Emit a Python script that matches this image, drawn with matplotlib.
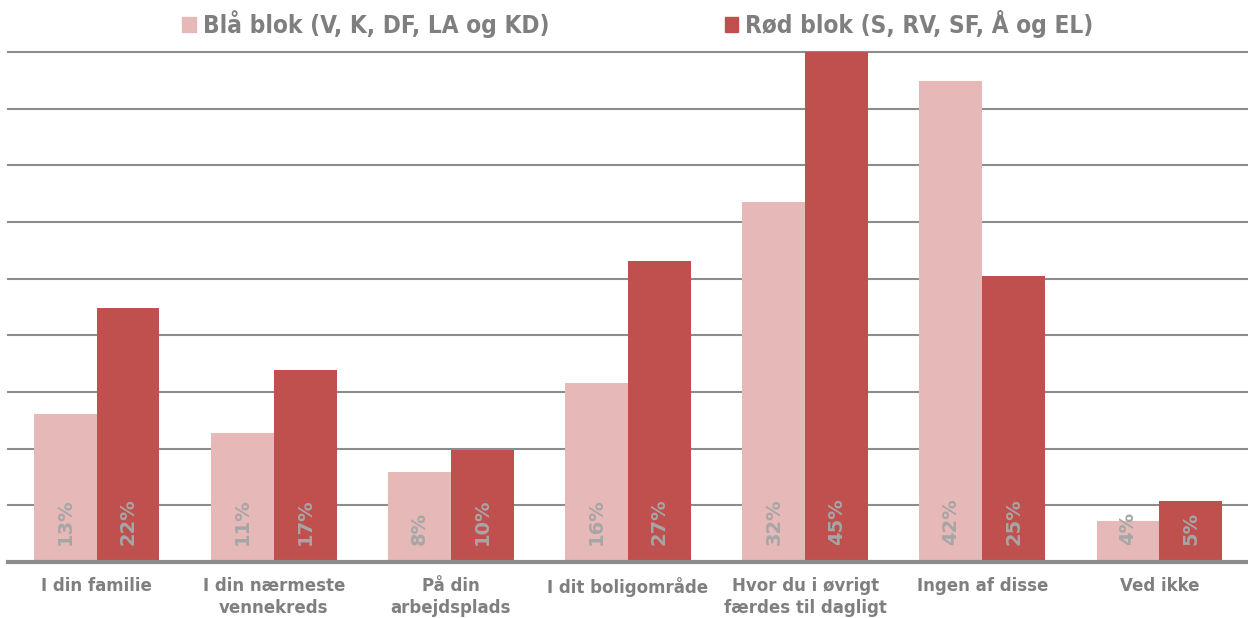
import numpy as np
import matplotlib.pyplot as plt
from matplotlib.patches import Patch

categories = ["I din familie", "I din nærmeste\nvennekreds", "På din\narbejdsplads",
              "I dit boligområde", "Hvor du i øvrigt\nfærdes til dagligt",
              "Ingen af disse", "Ved ikke"]
blaa = [13.1, 11.4, 7.9, 15.8, 31.8, 42.4, 3.6]
roed = [22.4, 16.9, 9.9, 26.6, 45.0, 25.2, 5.4]
series_names = ["Blå blok (V, K, DF, LA og KD)", "Rød blok (S, RV, SF, Å og EL)"]
colors = ["#e6b8b7", "#c0504d"]

plt.rcParams['font.family'] = 'DejaVu Sans'
fig = plt.figure(figsize=(12.48, 6.18), dpi=100)
ax = fig.add_axes([8/1248, 1-562/618, 1-8/1248, (562-52)/618])

x = np.arange(len(categories))
w = 0.355
b1 = ax.bar(x - w/2, blaa, w, color=colors[0], zorder=3)
b2 = ax.bar(x + w/2, roed, w, color=colors[1], zorder=3)

for bars, vals in [(b1, blaa), (b2, roed)]:
    for bar, v in zip(bars, vals):
        ax.text(bar.get_x() + bar.get_width()/2, 1.5, "%d%%" % round(v),
                rotation=90, ha='center', va='bottom', color='#a6a6a6',
                fontsize=14, fontweight='bold', zorder=4)

ax.set_xlim(-0.5, len(categories) - 0.5)
ax.set_ylim(0, 45)
ax.set_yticks(np.arange(5, 46, 5))
ax.yaxis.grid(True, color='#8c8c8c', linewidth=1.5, zorder=0)
for gl in ax.get_ygridlines():
    gl.set_clip_on(False)
ax.tick_params(axis='y', length=0, labelleft=False)
ax.tick_params(axis='x', length=0, pad=11)
ax.set_xticks(x)
ax.set_xticklabels(categories, fontsize=12, fontweight='bold', color='#7f7f7f',
                   linespacing=1.25, va='top')
for s in ['left', 'right', 'top']:
    ax.spines[s].set_visible(False)
ax.spines['bottom'].set_color('#8c8c8c')
ax.spines['bottom'].set_linewidth(3)
ax.spines['bottom'].set_zorder(5)

handles = [Patch(color=c) for c in colors]
leg = fig.legend(handles, series_names, loc='center', bbox_to_anchor=(638/1248, 1-24/618),
                 ncol=2, frameon=False, handlelength=0.55, handleheight=0.55,
                 handletextpad=0.3, columnspacing=7.2,
                 prop={'weight': 'bold', 'size': 17.5, 'stretch': 'condensed'})
for t in leg.get_texts():
    t.set_color('#7f7f7f')

fig.savefig("out.png", dpi=100)
